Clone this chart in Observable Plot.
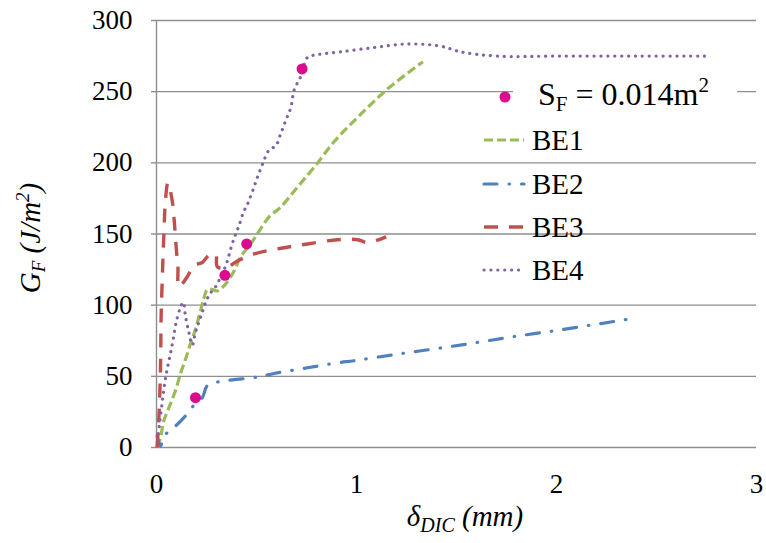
<!DOCTYPE html>
<html>
<head>
<meta charset="utf-8">
<script src="https://cdn.jsdelivr.net/npm/d3@7"></script>
<script src="https://cdn.jsdelivr.net/npm/@observablehq/plot@0.6"></script>
<style>
  html, body { margin: 0; padding: 0; background: #fff; }
  #chart { width: 766px; height: 543px; }
  #chart svg text, #chart svg tspan { font-family: 'Liberation Serif' !important; }
</style>
</head>
<body>
<div id="chart"></div>
<script>
// ---- Data ----
const xTicks = [0, 1, 2, 3];
const yTicks = [0, 50, 100, 150, 200, 250, 300];

const BE1_x = [0.005,0.02,0.037,0.062,0.095,0.12,0.145,0.17,0.195,0.22,0.237,0.254,0.28,0.304,0.346,0.388,0.421,0.471,0.513,0.563,0.622,0.705,0.789,0.889,1.006,1.156,1.332];
const BE1_y = [0,7,19,28,40,52,62,73,83,96,105,111,111,110,115,124,134,143,152,162,169,183,197,215,232,252,271];

const BE2_x = [0.003,0.02,0.037,0.087,0.137,0.195,0.229,0.254,0.304,0.379,0.505,0.588,0.755,0.906,0.989,1.19,1.39,1.59,1.79,1.99,2.19,2.39];
const BE2_y = [8,1,8,14,21,31,35,43.5,46,47.5,49.5,52,56,59.5,61,65.3,69.3,73.5,78,82,86.4,90.8];

const BE3_x = [0.003,0.012,0.02,0.023,0.028,0.037,0.045,0.057,0.078,0.087,0.1,0.107,0.112,0.154,0.187,0.229,0.262,0.296,0.304,0.346,0.404,0.488,0.622,0.755,0.906,1.006,1.056,1.148];
const BE3_y = [0,21,56,91,115,150,174,186,174,162,138,127,113,120,128,130,135,136,127,126,131,136,140,143,146,146,144,148];

const BE4_x = [0.005,0.028,0.043,0.058,0.073,0.087,0.1,0.12,0.134,0.145,0.162,0.179,0.195,0.212,0.229,0.246,0.267,0.296,0.321,0.338,0.354,0.374,0.396,0.413,0.434,0.455,0.48,0.505,0.53,0.563,0.597,0.62,0.647,0.672,0.688,0.722,0.755,0.805,0.922,1.088,1.256,1.42,1.52,1.7,2.0,2.4,2.75];
const BE4_y = [5,31,47,58,68,79,89,98.5,102,92,81,72,81,88,95,102,108,113,120,125,131,141,150,156,165,171,180,190,199,209,212,220,230,239,251,261,274,276,278,281,283.5,282,278,275,275,275,275];

const SF_x = [0.195, 0.342, 0.451, 0.728];
const SF_y = [35, 121, 143, 266];

const seriesNames = ["BE1", "BE2", "BE3", "BE4"];
const seriesColors = ["#9BBB59", "#4F81BD", "#C0504D", "#8064A2"];
const seriesDash = ["9,4", "13,12,0.5,12", "14,11", "0.1,6.8"];
const seriesCap = ["butt", "round", "butt", "round"];
const seriesWidth = [3.2, 3.2, 3.4, 3.2];
const markerColor = "#DC0A8C";

const toRows = (xs, ys) => xs.map((x, i) => ({x, y: ys[i]}));
const series = [toRows(BE1_x, BE1_y), toRows(BE2_x, BE2_y), toRows(BE3_x, BE3_y), toRows(BE4_x, BE4_y)];
const sf = toRows(SF_x, SF_y);

const gridColor = "#8E8E8E";
const serif = "Liberation Serif";

const lineMarks = series.map((d, i) => Plot.line(d, {
  x: "x", y: "y", curve: "catmull-rom",
  stroke: seriesColors[i], strokeWidth: seriesWidth[i],
  strokeDasharray: seriesDash[i], strokeLinecap: seriesCap[i]
}));

const chart = Plot.plot({
  width: 766, height: 543,
  marginLeft: 156, marginRight: 10, marginTop: 20, marginBottom: 96,
  style: {fontSize: "27px", color: "#000", background: "#fff", overflow: "visible"},
  x: {domain: [0, 3], ticks: xTicks},
  y: {domain: [0, 300], ticks: yTicks},
  marks: [
    Plot.gridY(yTicks, {stroke: gridColor, strokeOpacity: 1, strokeWidth: 1.4}),
    Plot.ruleX([0], {stroke: gridColor, strokeWidth: 1.4}),
    Plot.axisY(yTicks, {tickSize: 5, tickPadding: 19, stroke: gridColor, strokeOpacity: 1, strokeWidth: 1.4, fill: "#000", fontSize: 27, label: null, tickFormat: d => String(d)}),
    Plot.axisX(xTicks, {tickSize: 0, tickPadding: 26, fill: "#000", fontSize: 27, label: null, tickFormat: d => String(d)}),
    ...lineMarks,
    Plot.dot(sf, {x: "x", y: "y", r: 5.5, fill: markerColor, stroke: "none"})
  ]
});
chart.setAttribute("font-family", serif);
chart.style.fontFamily = "'Liberation Serif'";

document.getElementById("chart").appendChild(chart);

// ---- Legend and axis titles (added to the SVG) ----
const svg = d3.select(chart);

// Y title
const yt = svg.append("text")
  .attr("transform", "translate(40,238) rotate(-90)")
  .attr("text-anchor", "middle")
  .attr("font-family", serif).attr("font-style", "italic").attr("font-size", 29).attr("fill", "#000");
yt.append("tspan").text("G");
yt.append("tspan").attr("font-size", 19).attr("dy", 5).text("F");
yt.append("tspan").attr("dy", -5).text(" (J/m");
yt.append("tspan").attr("font-size", 19).attr("dy", -11).text("2");
yt.append("tspan").attr("dy", 11).text(")");

// X title
const xt = svg.append("text")
  .attr("x", 465).attr("y", 526)
  .attr("text-anchor", "middle")
  .attr("font-family", serif).attr("font-style", "italic").attr("font-size", 29).attr("fill", "#000");
xt.append("tspan").text("δ");
xt.append("tspan").attr("font-size", 20).attr("dy", 6).text("DIC");
xt.append("tspan").attr("dy", -6).text(" (mm)");

// Legend: S_F marker entry
const lg = svg.append("g").attr("text-anchor", "start");
lg.append("rect").attr("x", 513).attr("y", 72).attr("width", 224).attr("height", 44).attr("fill", "#fff");
lg.append("circle").attr("cx", 505).attr("cy", 97).attr("r", 5.5).attr("fill", markerColor);
const sft = lg.append("text").attr("x", 538).attr("y", 105).attr("text-anchor", "start")
  .attr("font-family", serif).attr("font-size", 32).attr("fill", "#000");
sft.append("tspan").text("S");
sft.append("tspan").attr("font-size", 21).attr("dy", 6).text("F");
sft.append("tspan").attr("dy", -6).text(" = 0.014m");
sft.append("tspan").attr("font-size", 21).attr("dy", -13).text("2");

const legendY = [140, 184, 227, 270];
seriesNames.forEach((name, i) => {
  lg.append("line")
    .attr("x1", 484).attr("x2", 524).attr("y1", legendY[i]).attr("y2", legendY[i])
    .attr("stroke", seriesColors[i]).attr("stroke-width", seriesWidth[i])
    .attr("stroke-dasharray", seriesDash[i]).attr("stroke-linecap", seriesCap[i]);
  lg.append("text").attr("x", 532).attr("y", legendY[i] + 10).attr("text-anchor", "start")
    .attr("font-family", serif).attr("font-size", 29).attr("fill", "#000").text(name);
});
</script>
</body>
</html>
